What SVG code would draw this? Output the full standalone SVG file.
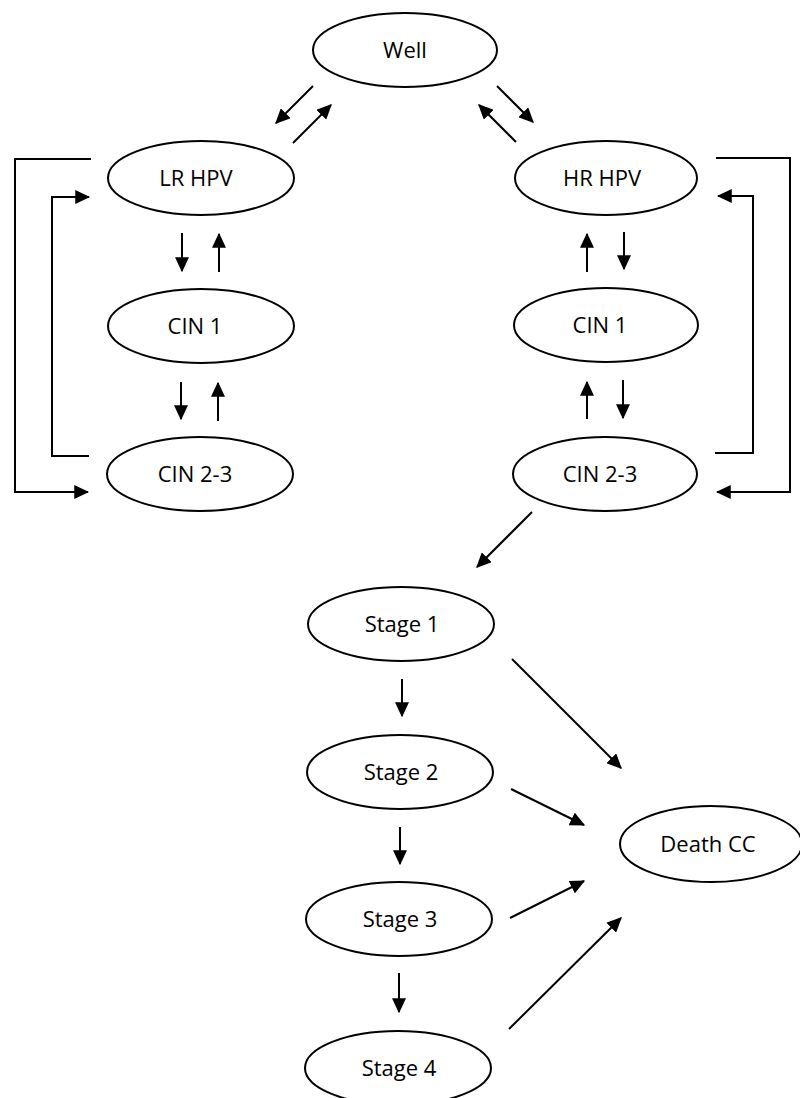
<svg xmlns="http://www.w3.org/2000/svg" width="800" height="1098" viewBox="0 0 800 1098">
<style>
.node ellipse{fill:#fff;stroke:#000;stroke-width:2}
.node text{font-family:"Open Sans","Liberation Sans",sans-serif;font-size:22px;fill:#000;text-anchor:middle}
.conn line,.conn polyline{stroke:#000;stroke-width:2;fill:none}
.arr{marker-end:url(#ah)}
</style>
<defs>
<marker id="ah" viewBox="0 0 12 12" refX="11" refY="6" markerWidth="15" markerHeight="14" markerUnits="userSpaceOnUse" orient="auto" preserveAspectRatio="none">
<path d="M0,0 L12,6 L0,12 z" fill="#000"/>
</marker>
</defs>
<rect width="800" height="1098" fill="#fff"/>
<g id="nodes">
<g id="well" class="node"><ellipse cx="405" cy="50" rx="92" ry="37"/><text x="405" y="58">Well</text></g>
<g id="lrhpv" class="node"><ellipse cx="201" cy="178" rx="93" ry="37"/><text x="196" y="186">LR HPV</text></g>
<g id="cin1l" class="node"><ellipse cx="201" cy="326" rx="93" ry="37"/><text x="195" y="334">CIN 1</text></g>
<g id="cin23l" class="node"><ellipse cx="200" cy="474" rx="93" ry="37"/><text x="195" y="482">CIN 2-3</text></g>
<g id="hrhpv" class="node"><ellipse cx="606" cy="178" rx="91" ry="37"/><text x="602" y="186">HR HPV</text></g>
<g id="cin1r" class="node"><ellipse cx="606" cy="325" rx="92" ry="37"/><text x="600" y="333">CIN 1</text></g>
<g id="cin23r" class="node"><ellipse cx="605" cy="474" rx="92" ry="37"/><text x="600" y="482">CIN 2-3</text></g>
<g id="stage1" class="node"><ellipse cx="401" cy="624" rx="93" ry="37"/><text x="402" y="632">Stage 1</text></g>
<g id="stage2" class="node"><ellipse cx="400" cy="772" rx="93" ry="37"/><text x="401" y="780">Stage 2</text></g>
<g id="stage3" class="node"><ellipse cx="399" cy="919" rx="93" ry="37"/><text x="400" y="927">Stage 3</text></g>
<g id="stage4" class="node"><ellipse cx="398" cy="1068" rx="93" ry="37"/><text x="399" y="1076">Stage 4</text></g>
<g id="death" class="node"><ellipse cx="711" cy="844" rx="91" ry="38"/><text x="708" y="852">Death CC</text></g>
</g>
<g id="connectors" class="conn">
<line class="arr" x1="313" y1="86" x2="276" y2="123"/>
<line class="arr" x1="293" y1="143" x2="331" y2="105"/>
<line class="arr" x1="497" y1="86" x2="533" y2="122"/>
<line class="arr" x1="516" y1="142" x2="479" y2="105"/>
<line class="arr" x1="182" y1="233" x2="182" y2="271"/>
<line class="arr" x1="219" y1="272" x2="219" y2="234"/>
<line class="arr" x1="181" y1="382" x2="181" y2="419"/>
<line class="arr" x1="218" y1="421" x2="218" y2="383"/>
<line class="arr" x1="587" y1="272" x2="587" y2="234"/>
<line class="arr" x1="624" y1="232" x2="624" y2="269"/>
<line class="arr" x1="587" y1="419" x2="587" y2="382"/>
<line class="arr" x1="623" y1="380" x2="623" y2="418"/>
<polyline class="arr" points="91,159 15,159 15,492 88,492"/>
<polyline class="arr" points="89,456 52,456 52,197 89,197"/>
<polyline class="arr" points="716,158 790,158 790,492 717,492"/>
<polyline class="arr" points="715,453 753,453 753,196 718,196"/>
<line class="arr" x1="532" y1="512" x2="477" y2="567"/>
<line class="arr" x1="402" y1="679" x2="402" y2="716"/>
<line class="arr" x1="400" y1="827" x2="400" y2="864"/>
<line class="arr" x1="399" y1="973" x2="399" y2="1012"/>
<line class="arr" x1="512" y1="659" x2="621" y2="768"/>
<line class="arr" x1="511" y1="789" x2="584" y2="825"/>
<line class="arr" x1="510" y1="918" x2="584" y2="881"/>
<line class="arr" x1="509" y1="1029" x2="621" y2="918"/>
</g>
</svg>
